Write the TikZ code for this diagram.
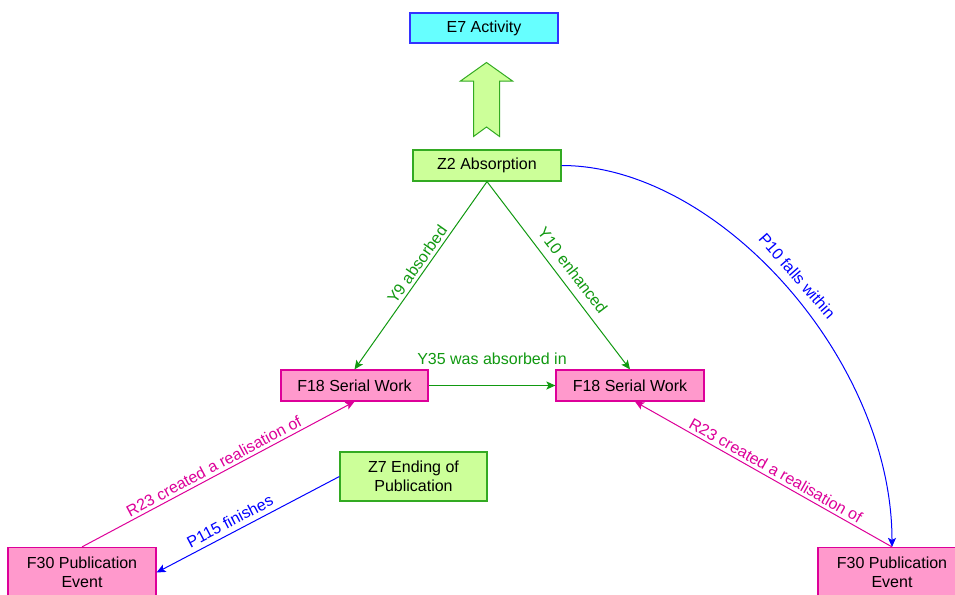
\documentclass[tikz,border=0pt]{standalone}
\usepackage{fontspec}
\setmainfont{Liberation Sans}
\usetikzlibrary{arrows.meta}
\definecolor{cyanfill}{HTML}{66FFFF}
\definecolor{cyanline}{HTML}{3333FF}
\definecolor{greenfill}{HTML}{CCFF99}
\definecolor{greenline}{HTML}{33AA22}
\definecolor{pinkfill}{HTML}{FF99CC}
\definecolor{pinkline}{HTML}{DD0099}
\definecolor{lblgreen}{HTML}{119911}
\definecolor{lblmag}{HTML}{DD0099}
\definecolor{lblblue}{HTML}{0000FF}
\tikzset{
  box/.style={draw, line width=1.2pt, inner sep=0pt, align=center, text=black,
    font=\fontsize{16}{19}\selectfont, minimum width=148pt, minimum height=31pt},
  ebox/.style={box, fill=cyanfill, draw=cyanline},
  zbox/.style={box, fill=greenfill, draw=greenline},
  fbox/.style={box, fill=pinkfill, draw=pinkline},
  conn/.style={line width=1pt, -{Stealth[length=9pt,width=8pt,inset=2pt]}},
  lbl/.style={font=\fontsize{16}{19}\selectfont, sloped, inner sep=3pt},
}
\begin{document}
\begin{tikzpicture}[x=1pt,y=-1pt]
\useasboundingbox (0,0) rectangle (955,594);
\clip (0,0) rectangle (955,594);
\fill[white] (0,0) rectangle (955,594);

\node[ebox, minimum height=30pt] (E7) at (484,28) {E7 Activity};
\node[zbox] (Z2) at (487,165.5) {Z2 Absorption};
\node[fbox, minimum width=147pt] (F18L) at (354.5,385.5) {F18 Serial Work};
\node[fbox] (F18R) at (630,385.5) {F18 Serial Work};
\node[zbox, minimum width=147pt, minimum height=49pt] (Z7) at (413.5,476.5) {Z7 Ending of\\Publication};
\node[fbox, minimum height=50pt] (F30L) at (82,572.5) {F30 Publication\\Event};
\node[fbox, minimum height=50pt] (F30R) at (892,572.5) {F30 Publication\\Event};

% big isA arrow
\draw[line width=1pt, draw=greenline, fill=greenfill]
  (486.5,62.5) -- (512.5,81) -- (499.5,81) -- (499.5,136.5) -- (486.5,127)
  -- (473.5,136.5) -- (473.5,81) -- (460.5,81) -- cycle;

\draw[conn, lblgreen] (Z2.south) -- node[lbl, above, pos=0.47, text=lblgreen] {Y9 absorbed} (F18L.north);
\draw[conn, lblgreen] (Z2.south) -- node[lbl, above=5pt, pos=0.52, text=lblgreen] {Y10 enhanced} (F18R.north);
\draw[conn, lblgreen] (F18L.east) -- node[font=\fontsize{16}{19}\selectfont, above=17pt, text=lblgreen] {Y35 was absorbed in} (F18R.west);
\draw[conn, lblblue] (Z2.east) .. controls +(157,0) and +(0,-187) .. node[lbl, above=6pt, pos=0.5, text=lblblue] {P10 falls within} (F30R.north);
\draw[conn, lblmag] (F30L.north) -- node[lbl, above, pos=0.5, text=lblmag] {R23 created a realisation of} (F18L.south);
\draw[conn, lblmag] (F30R.north) -- node[lbl, above, pos=0.47, text=lblmag] {R23 created a realisation of} ([xshift=5pt]F18R.south);
\draw[conn, lblblue] (Z7.west) -- node[lbl, above=2pt, pos=0.57, text=lblblue] {P115 finishes} (F30L.east);
\end{tikzpicture}
\end{document}
